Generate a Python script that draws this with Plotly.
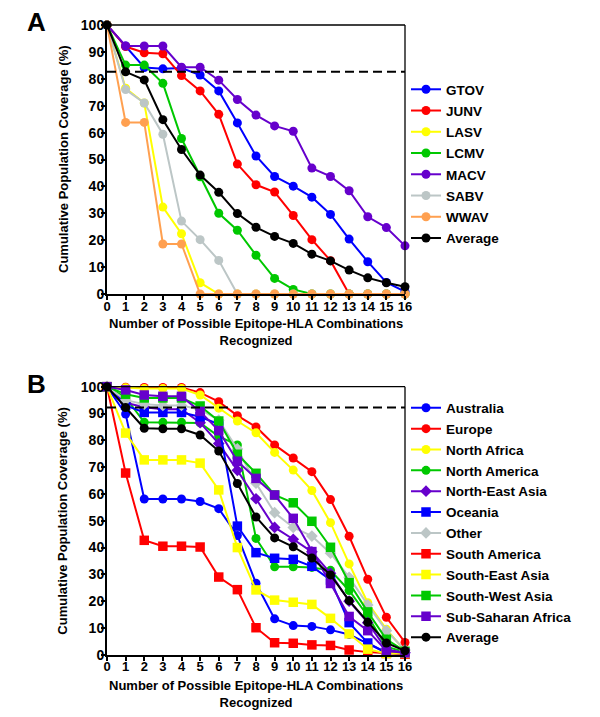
import plotly.graph_objects as go

W, H = 600, 717
OFF = 8  # page body margin in the browser

# ---------------- data ----------------
x_vals = list(range(17))
x_ticks = [str(i) for i in range(17)]
y_ticks = list(range(0, 101, 10))

# Panel A (viruses)
a_names = ["GTOV", "JUNV", "LASV", "LCMV", "MACV", "SABV", "WWAV", "Average"]
GTOV = [100, 92.2, 84.2, 83.7, 84.0, 81.4, 75.5, 63.6, 51.3, 43.7, 40.1, 36.0, 29.6, 20.4, 12.0, 4.3, 0.9]
JUNV = [100, 92.0, 89.7, 89.3, 81.2, 75.5, 66.8, 48.3, 40.6, 37.9, 29.2, 20.2, 12.4, 0, 0, 0, 0]
LASV = [100, 76.5, 71.0, 32.3, 22.4, 4.2, 0, 0, 0, 0, 0, 0, 0, 0, 0, 0, 0]
LCMV = [100, 85.1, 85.1, 78.3, 57.8, 43.6, 30.0, 23.7, 14.4, 5.8, 1.7, 0, 0, 0, 0, 0, 0]
MACV = [100, 92.2, 92.2, 92.2, 84.3, 84.3, 79.5, 72.3, 66.5, 62.5, 60.5, 46.8, 43.7, 38.4, 28.7, 24.7, 17.9]
SABV = [100, 76.0, 71.0, 59.4, 27.1, 20.2, 12.5, 0, 0, 0, 0, 0, 0, 0, 0, 0, 0]
WWAV = [100, 63.8, 63.8, 18.6, 18.6, 0, 0, 0, 0, 0, 0, 0, 0, 0, 0, 0, 0]
AVG_A = [100, 82.6, 79.6, 64.8, 53.7, 44.2, 37.8, 29.9, 24.8, 21.4, 18.8, 14.8, 12.3, 8.9, 6.0, 4.2, 2.7]
a_values = [GTOV, JUNV, LASV, LCMV, MACV, SABV, WWAV, AVG_A]

# Panel B (regions)
b_names = ["Australia", "Europe", "North Africa", "North America", "North-East Asia",
           "Oceania", "Other", "South America", "South-East Asia", "South-West Asia",
           "Sub-Saharan Africa", "Average"]
AUSTRALIA = [100, 89.8, 58.1, 58.1, 58.1, 57.2, 54.5, 44.5, 26.7, 13.4, 10.9, 10.6, 9.3, 7.6, 4.2, 0.8, 0.3]
EUROPE = [100, 99.8, 99.7, 99.7, 99.7, 97.8, 94.4, 89.2, 85.0, 78.3, 73.4, 68.3, 57.9, 44.2, 28.2, 14.0, 4.6]
NORTH_AFRICA = [100, 99.6, 99.3, 99.3, 99.3, 96.9, 92.0, 87.2, 82.8, 75.5, 68.9, 61.3, 49.3, 33.9, 19.4, 9.5, 1.5]
NORTH_AMERICA = [100, 96.0, 86.7, 86.7, 86.7, 86.5, 81.5, 78.3, 43.4, 32.8, 32.8, 32.6, 31.5, 24.0, 14.5, 3.0, 1.0]
NE_ASIA = [100, 94.0, 92.3, 91.6, 91.6, 86.6, 78.8, 68.8, 58.2, 47.5, 43.1, 38.4, 30.4, 20.0, 12.0, 2.0, 0.8]
OCEANIA = [100, 93.0, 90.4, 90.4, 90.4, 88.8, 86.0, 48.0, 38.1, 36.0, 35.6, 33.0, 27.9, 12.0, 4.4, 0.8, 0.3]
OTHER = [100, 95.0, 93.5, 93.0, 93.0, 91.5, 87.5, 76.8, 64.0, 53.0, 47.5, 44.3, 37.9, 28.9, 18.6, 9.0, 1.8]
SOUTH_AMERICA = [100, 67.8, 42.7, 40.5, 40.5, 40.2, 29.0, 24.3, 10.1, 4.5, 4.3, 3.7, 3.5, 1.8, 1.0, 0.5, 0.2]
SE_ASIA = [100, 82.7, 72.7, 72.7, 72.7, 71.5, 61.5, 40.0, 24.2, 20.4, 19.6, 18.8, 13.6, 7.8, 2.1, 0.5, 0.5]
SW_ASIA = [100, 97.2, 95.8, 95.8, 95.8, 92.8, 87.2, 74.8, 67.7, 59.6, 56.7, 49.8, 40.1, 26.9, 16.0, 5.8, 1.3]
SS_AFRICA = [100, 98.8, 96.9, 96.4, 96.4, 90.8, 83.6, 72.2, 65.8, 59.6, 50.9, 38.5, 26.6, 14.3, 9.0, 1.5, 0.7]
AVG_B = [100, 92.2, 84.5, 84.3, 84.3, 82.0, 76.0, 63.9, 51.4, 43.6, 40.3, 36.1, 29.8, 20.2, 12.1, 4.4, 1.5]
b_values = [AUSTRALIA, EUROPE, NORTH_AFRICA, NORTH_AMERICA, NE_ASIA, OCEANIA, OTHER,
            SOUTH_AMERICA, SE_ASIA, SW_ASIA, SS_AFRICA, AVG_B]

# ---------------- styles ----------------
BLUE, RED, YELLOW, GREEN = "#0000FF", "#FF0000", "#FFFF00", "#00C800"
PURPLE, GRAY, ORANGE, BLACK = "#6600CC", "#BCC6C6", "#FFA050", "#000000"
a_colors = [BLUE, RED, YELLOW, GREEN, PURPLE, GRAY, ORANGE, BLACK]
b_colors = [BLUE, RED, YELLOW, GREEN, PURPLE, BLUE, GRAY, RED, YELLOW, GREEN, PURPLE, BLACK]
b_symbols = ["circle", "circle", "circle", "circle", "diamond", "square", "diamond",
             "square", "square", "square", "square", "circle"]

FONT = "Arial, 'Liberation Sans', Helvetica, sans-serif"

def px_x(p):
    return (p - OFF) / W

def px_y(p):
    return 1 - (p - OFF) / H

fig = go.Figure()

for name, vals, col in zip(a_names, a_values, a_colors):
    fig.add_trace(go.Scatter(
        x=x_vals, y=vals, name=name, mode="lines+markers",
        line=dict(color=col, width=2),
        marker=dict(symbol="circle", size=9, color=col),
        xaxis="x", yaxis="y", legend="legend", legendgroup="a_" + name,
        cliponaxis=False,
    ))

for name, vals, col, sym in zip(b_names, b_values, b_colors, b_symbols):
    fig.add_trace(go.Scatter(
        x=x_vals, y=vals, name=name, mode="lines+markers",
        line=dict(color=col, width=2),
        marker=dict(symbol=sym, size=9.5 if sym == "square" else 9, color=col),
        xaxis="x2", yaxis="y2", legend="legend2", legendgroup="b_" + name,
        cliponaxis=False,
    ))

x_dom = [px_x(107), px_x(405)]
ya_dom = [px_y(294), px_y(25)]
yb_dom = [px_y(654.8), px_y(386.7)]

axis_common = dict(
    showgrid=False, zeroline=False, showline=True, linewidth=2, linecolor="black",
    ticks="outside", ticklen=4, tickwidth=2, tickcolor="black",
    fixedrange=True, automargin=False,
)
xaxis_common = dict(axis_common, range=[0, 16], tickmode="array", tickvals=x_vals, ticktext=x_ticks,
                    tickfont=dict(family=FONT, size=13, color="black", weight="bold"),
                    ticklabelstandoff=-5)
yaxis_common = dict(axis_common, range=[0, 100], tickmode="array", tickvals=y_ticks,
                    tickfont=dict(family=FONT, size=14, color="black", weight="bold"),
                    ticklabelstandoff=-6)

legend_common = dict(
    xanchor="left", yanchor="top", bgcolor="rgba(0,0,0,0)",
    font=dict(family=FONT, size=13.5, color="black", weight="bold"),
    itemwidth=30, traceorder="grouped",
)

shapes = []
for xr, yr, avg in (("x", "y", AVG_A), ("x2", "y2", AVG_B)):
    shapes.append(dict(type="line", xref=xr + " domain", yref=yr + " domain",
                       x0=0, x1=1, y0=1, y1=1, line=dict(color="black", width=1.3)))
    shapes.append(dict(type="line", xref=xr + " domain", yref=yr + " domain",
                       x0=1, x1=1, y0=0, y1=1, line=dict(color="black", width=1.3)))
    shapes.append(dict(type="line", xref=xr + " domain", yref=yr,
                       x0=0, x1=1, y0=avg[1], y1=avg[1],
                       line=dict(color="black", width=2, dash="9px,5px")))

title_font = dict(family=FONT, size=13, color="black", weight="bold")
annotations = []
for dy, letter_y, letter in ((0, 22, "A"), (361.7, 384, "B")):
    annotations.append(dict(text=letter, x=px_x(36), y=px_y(letter_y), xref="paper", yref="paper",
                            showarrow=False, xanchor="center", yanchor="middle",
                            font=dict(family=FONT, size=26, color="black", weight="bold")))
    annotations.append(dict(text="Cumulative Population Coverage (%)", textangle=-90,
                            x=px_x(63), y=px_y(159 + dy), xref="paper", yref="paper",
                            showarrow=False, xanchor="center", yanchor="middle", font=title_font))
    annotations.append(dict(text="Number of Possible Epitope-HLA Combinations<br>Recognized",
                            x=px_x(256), y=px_y(332 + dy), xref="paper", yref="paper",
                            showarrow=False, xanchor="center", yanchor="middle", font=title_font))

fig.update_layout(
    template="none",
    width=W, height=H,
    margin=dict(l=0, r=0, t=0, b=0, pad=0, autoexpand=False),
    paper_bgcolor="white", plot_bgcolor="white",
    showlegend=True,
    xaxis=dict(xaxis_common, domain=x_dom, anchor="y"),
    yaxis=dict(yaxis_common, domain=ya_dom, anchor="x"),
    xaxis2=dict(xaxis_common, domain=x_dom, anchor="y2"),
    yaxis2=dict(yaxis_common, domain=yb_dom, anchor="x2"),
    legend=dict(legend_common, x=px_x(406), y=px_y(74), tracegroupgap=0.7),
    legend2=dict(legend_common, x=px_x(406), y=px_y(392.5), tracegroupgap=0.3),
    shapes=shapes,
    annotations=annotations,
)

fig.write_html("out.html")
